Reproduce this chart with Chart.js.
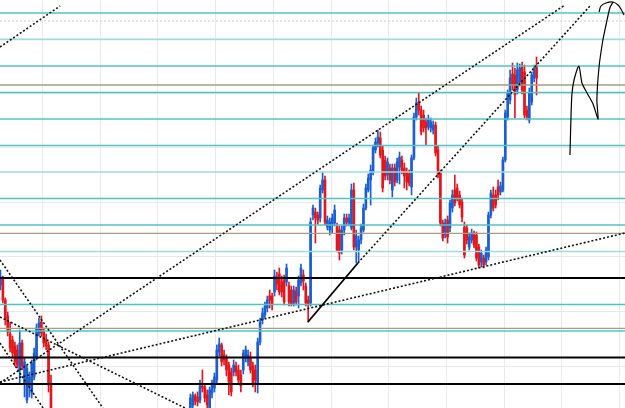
<!DOCTYPE html>
<html lang="en">
<head>
<meta charset="UTF-8">
<title>Price chart with levels</title>
<script src="https://cdn.jsdelivr.net/npm/chart.js"></script>
<style>
  html, body { margin: 0; padding: 0; background: #fff; }
  #wrap { width: 625px; height: 408px; position: relative; }
</style>
</head>
<body>
<div id="wrap"><canvas id="priceChart"></canvas></div>
<script>
// hourly bars; bars 22..78 trade below the visible window and are left out
var hiddenFrom = 22, hiddenCount = 57;

var opens = [
  4203,4209,4188,4172,4154,4148,4142,4138,4118,4145,4105,4088,4101,4095,4111,4131,4155,4166,4156,4148,4143,4105,
  4076,4083,4092,4091,4088,4102,4101,4093,4080,4095,
  4100,4108,4136,4143,4133,4130,4123,4116,4116,4122,
  4118,4113,4118,4130,4126,4131,4122,4118,4105,4146,
  4168,4173,4180,4192,4192,4196,4211,4214,4206,4208,
  4206,4202,4198,4185,4197,4192,4205,4213,4202,4188,
  4185,4273,4276,4273,4270,4298,4308,4261,4258,4263,
  4265,4261,4258,4238,4258,4270,4265,4260,4298,4241,
  4238,4248,4258,4280,4298,4308,4316,4338,4345,4350,
  4338,4328,4313,4320,4298,4320,4308,4321,4328,4320,
  4316,4314,4301,4330,4371,4386,4378,4373,4366,4361,
  4360,4358,4363,4338,4315,4265,4253,4268,4260,4280,
  4298,4300,4293,4286,4261,4260,4241,4248,4253,4253,
  4241,4226,4230,4226,4231,4273,4293,4293,4301,4296,
  4298,4328,4371,4388,4414,4413,4398,4406,4421,4416,
  4378,4368,4386,4410,4421
];
var highs = [
  4218,4212,4190,4176,4166,4152,4146,4143,4158,4148,4130,4123,4116,4128,4140,4164,4170,4172,4160,4154,4146,4113,
  4094,4096,4094,4096,4108,4118,4104,4098,4101,4108,
  4115,4143,4150,4145,4138,4133,4126,4120,4128,4126,
  4123,4118,4138,4142,4138,4136,4126,4123,4150,4170,
  4180,4186,4192,4198,4195,4218,4216,4220,4212,4213,
  4224,4206,4202,4202,4201,4212,4224,4218,4205,4192,
  4270,4283,4280,4276,4303,4316,4312,4272,4270,4274,
  4283,4265,4262,4262,4274,4274,4274,4304,4305,4258,
  4252,4264,4284,4304,4314,4323,4343,4350,4358,4356,
  4342,4332,4330,4324,4324,4324,4330,4336,4332,4325,
  4320,4318,4333,4375,4390,4395,4382,4378,4370,4373,
  4370,4367,4366,4342,4318,4268,4269,4272,4288,4298,
  4313,4304,4297,4290,4266,4263,4255,4259,4257,4256,
  4244,4238,4233,4241,4276,4298,4301,4298,4308,4306,
  4331,4378,4398,4418,4425,4420,4425,4424,4426,4423,
  4382,4400,4416,4423,4431
];
var lows = [
  4198,4185,4163,4152,4136,4130,4122,4120,4105,4118,4091,4085,4091,4090,4108,4128,4152,4152,4141,4138,4096,4068,
  4070,4076,4083,4082,4085,4096,4086,4078,4076,4090,
  4096,4104,4132,4122,4123,4112,4093,4092,4112,4112,
  4104,4096,4114,4126,4122,4115,4101,4096,4095,4143,
  4164,4170,4176,4180,4178,4192,4198,4193,4191,4183,
  4202,4182,4182,4182,4183,4180,4202,4198,4182,4166,
  4182,4268,4245,4264,4266,4295,4263,4258,4253,4255,
  4262,4236,4228,4234,4253,4262,4262,4258,4238,4225,
  4226,4244,4256,4278,4296,4283,4313,4335,4341,4330,
  4296,4308,4308,4304,4291,4302,4305,4304,4314,4300,
  4298,4302,4293,4328,4368,4373,4353,4356,4343,4358,
  4356,4354,4332,4310,4262,4247,4250,4245,4256,4276,
  4282,4287,4280,4266,4230,4244,4238,4245,4240,4227,
  4220,4221,4220,4223,4228,4270,4277,4280,4288,4293,
  4296,4326,4368,4384,4398,4370,4394,4402,4394,4370,
  4368,4365,4383,4406,4393
];
var closes = [
  4211,4188,4170,4156,4140,4135,4126,4123,4145,4122,4126,4120,4111,4125,4135,4160,4165,4155,4145,4142,4103,4076,
  4090,4093,4087,4086,4102,4100,4090,4083,4098,4105,
  4111,4138,4144,4126,4128,4118,4106,4096,4123,4116,
  4108,4102,4135,4138,4133,4118,4105,4108,4146,4166,
  4175,4182,4188,4188,4183,4212,4204,4196,4196,4186,
  4220,4186,4184,4198,4186,4208,4220,4207,4185,4183,
  4266,4280,4270,4268,4300,4308,4266,4268,4266,4270,
  4278,4238,4235,4258,4270,4266,4270,4298,4241,4252,
  4248,4260,4280,4300,4310,4318,4340,4346,4351,4333,
  4300,4312,4326,4308,4320,4306,4326,4331,4318,4312,
  4306,4305,4330,4371,4385,4378,4356,4360,4360,4369,
  4366,4363,4335,4313,4265,4250,4265,4251,4285,4293,
  4285,4290,4283,4271,4233,4248,4251,4255,4243,4230,
  4223,4235,4223,4238,4273,4295,4280,4283,4293,4302,
  4328,4375,4395,4410,4403,4393,4418,4420,4398,4373,
  4371,4395,4413,4418,4410
];

// chart grid (bar index / price)
var timeGrid = [17.5, 41.5, 65.5, 89.5, 113.5, 137.5, 161.5, 185.5, 209.5, 233.5, 257.5];
var priceGrid = [4121.9, 4176.5, 4231.1, 4285.7, 4340.3, 4394.9, 4449.5];

// horizontal levels drawn by hand
var cyanLevels = [4475, 4422, 4395.5, 4369, 4342.5, 4289.5, 4263, 4183.5, 4157];
var paleCyanLevels = [4448.5, 4316, 4236.5];
var oliveLevels = [4403, 4254.7, 4159.7];
var blackLevels = [4210, 4130.5, 4104];
var bidLevel = 4467;

// trend lines as [bar, price] pairs
var dottedLines = [
  [[-0.2, 4441], [24.8, 4482]],
  [[-0.2, 4105], [234.8, 4483]],
  [[-0.2, 4106], [259.8, 4255]],
  [[-0.2, 4228], [42.6, 4080]],
  [[-0.2, 4171], [76.8, 4080]],
  [[-0.2, 4145], [17.7, 4080]],
  [[148.7, 4225], [245.6, 4483]]
];
var solidLine = [[127.9, 4166], [148.7, 4225]];
var sketchStroke = [[236.9,4333],[237.3,4368],[237.7,4393],[238.6,4408],[240.6,4422],[241.9,4405],[244.0,4395],
  [246.5,4384],[248.6,4369],[248.1,4388],[249.0,4421],[250.6,4448],[251.9,4463],[253.5,4480],[254.8,4486]];
var sketchCap = [[249.0,4476],[249.8,4482],[251.9,4485],[254.8,4486],[256.9,4483],[258.1,4479],[259.4,4473]];

var xMin = -0.2, xMax = 259.8;
var yMin = 4080, yMax = 4488;

var wicks = [], bodies = [], candleColors = [];
opens.forEach(function (o, k) {
  var x = k < hiddenFrom ? k : k + hiddenCount;
  wicks.push({ x: x, y: [lows[k], highs[k]] });
  bodies.push({ x: x, y: [o, closes[k]] });
  candleColors.push(closes[k] >= o ? '#1a5ed4' : '#e3161c');
});

function level(v, color, width, dash) {
  return {
    type: 'line',
    data: [{ x: xMin, y: v }, { x: xMax, y: v }],
    borderColor: color, borderWidth: width, borderDash: dash || [],
    pointRadius: 0, order: 2
  };
}
function path(pts, color, width, dash, tension) {
  return {
    type: 'line',
    data: pts.map(function (p) { return { x: p[0], y: p[1] }; }),
    borderColor: color, borderWidth: width, borderDash: dash || [],
    pointRadius: 0, tension: tension || 0, order: 1
  };
}

var datasets = [
  { type: 'bar', data: wicks, backgroundColor: candleColors, barThickness: 1, grouped: false, order: 6 },
  { type: 'bar', data: bodies, backgroundColor: candleColors, barThickness: 2, minBarLength: 1, grouped: false, order: 5 }
];
datasets.push(level(bidLevel, '#cccccc', 1, [2, 2]));
oliveLevels.forEach(function (v) { datasets.push(level(v, '#a19f85', 1.3)); });
paleCyanLevels.forEach(function (v) { datasets.push(level(v, '#9adede', 1.6)); });
cyanLevels.forEach(function (v) { datasets.push(level(v, '#4fc4c4', 1.3)); });
blackLevels.forEach(function (v) { datasets.push(level(v, '#000000', 2)); });
dottedLines.forEach(function (l) { datasets.push(path(l, '#111111', 1.6, [2, 2])); });
datasets.push(path(solidLine, '#000000', 1.8));
datasets.push(path(sketchStroke, '#000000', 1.2, [], 0.25));
datasets.push(path(sketchCap, '#000000', 1.2, [], 0.3));

new Chart(document.getElementById('priceChart'), {
  type: 'bar',
  data: { datasets: datasets },
  options: {
    responsive: true,
    maintainAspectRatio: false,
    animation: false,
    layout: { padding: 0 },
    plugins: { legend: { display: false }, tooltip: { enabled: false } },
    scales: {
      x: {
        type: 'linear', min: xMin, max: xMax, offset: false,
        afterBuildTicks: function (s) { s.ticks = timeGrid.map(function (v) { return { value: v }; }); },
        grid: { color: '#e9e9e9', drawTicks: false, offset: false },
        border: { display: false },
        ticks: { display: false }
      },
      y: {
        type: 'linear', min: yMin, max: yMax,
        afterBuildTicks: function (s) { s.ticks = priceGrid.map(function (v) { return { value: v }; }); },
        grid: { color: '#e9e9e9', drawTicks: false },
        border: { display: false },
        ticks: { display: false }
      }
    }
  }
});
</script>
</body>
</html>
